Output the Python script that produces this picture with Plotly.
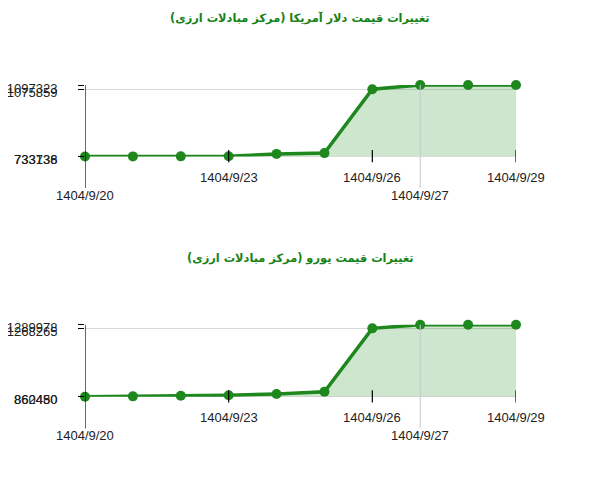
import plotly.graph_objects as go

# dates (shamsi) and daily prices
dates = ["1404/9/20", "1404/9/21", "1404/9/22", "1404/9/23", "1404/9/24",
         "1404/9/25", "1404/9/26", "1404/9/27", "1404/9/28", "1404/9/29"]

usd_prices = [733136, 733738, 733900, 734200, 746500,
              750500, 1075859, 1097323, 1097323, 1097323]
eur_prices = [860480, 862450, 866400, 868800, 876600,
              890300, 1268265, 1289978, 1289978, 1289978]

usd_ticks = [733136, 733738, 1075859, 1097323]
eur_ticks = [860480, 862450, 1268265, 1289978]

usd_title = "تغییرات قیمت دلار آمریکا (مرکز مبادلات ارزی)"
eur_title = "تغییرات قیمت یورو (مرکز مبادلات ارزی)"

# labels on the upper row / lower row of the x axis
upper_labels = ["1404/9/23", "1404/9/26", "1404/9/29"]
lower_labels = ["1404/9/20", "1404/9/27"]

GREEN = "#1e881e"
FILL = "rgba(30,140,30,0.22)"
FONT = "Liberation Sans, Arial, sans-serif"

# figure is a bit smaller than the window so the page body margin fits
OFF = 8
W = 600 - 2 * OFF
H = 480 - 2 * OFF


def dom(top_px, bottom_px):
    return [1 - (bottom_px - OFF) / H, 1 - (top_px - OFF) / H]


fig = go.Figure()

charts = [
    ("", usd_prices, usd_ticks, usd_title, dom(85, 156.5), 18),
    ("2", eur_prices, eur_ticks, eur_title, dom(324.7, 396.7), 258),
]

for sfx, prices, ticks, title, ydom, title_px in charts:
    xa = "x" + sfx
    ya = "y" + sfx
    # baseline for the area fill
    fig.add_trace(go.Scatter(x=dates, y=[min(ticks)] * len(dates), xaxis=xa, yaxis=ya,
                             mode="lines", line=dict(color="#bdbdbd", width=1),
                             hoverinfo="skip", cliponaxis=False))
    fig.add_trace(go.Scatter(x=dates, y=prices, xaxis=xa, yaxis=ya,
                             mode="lines+markers", fill="tonexty", fillcolor=FILL,
                             line=dict(color=GREEN, width=3.5),
                             marker=dict(color=GREEN, size=10),
                             cliponaxis=False))

    fig.update_layout(**{
        "xaxis" + sfx: dict(type="category", range=[0, len(dates) - 1],
                            domain=[(85 - OFF) / W, (516 - OFF) / W], showgrid=False,
                            zeroline=False, showticklabels=False, ticks="",
                            anchor=ya, fixedrange=True, automargin=False),
        "yaxis" + sfx: dict(domain=ydom, range=[min(ticks), max(ticks)],
                            tickvals=ticks, ticktext=[str(t) for t in ticks],
                            ticks="outside", ticklen=6, tickcolor="black",
                            showgrid=True, gridcolor="#d9d9d9", zeroline=False,
                            showline=False, ticklabelstandoff=18,
                            ticklabelshift=3, automargin=False,
                            tickfont=dict(family=FONT, size=13, color="#222"),
                            anchor=xa, fixedrange=True),
    })

    yref = ya + " domain"
    # y axis line, extended down to the lower label row
    fig.add_shape(type="line", xref=xa, yref=yref, x0=dates[0], x1=dates[0],
                  y0=1, y1=-0.44, line=dict(color="black", width=1.2))
    for d in lower_labels[1:]:
        fig.add_shape(type="line", xref=xa, yref=yref, x0=d, x1=d,
                      y0=1, y1=-0.44, line=dict(color="#c8c8c8", width=1))
    for d in upper_labels:
        fig.add_shape(type="line", xref=xa, yref=yref, x0=d, x1=d,
                      y0=0.09, y1=-0.08, line=dict(color="black", width=1.2))
        fig.add_annotation(x=d, y=0, xref=xa, yref=yref, text=d, showarrow=False,
                           yanchor="middle", yshift=-21,
                           font=dict(family=FONT, size=13, color="#222"))
    for d in lower_labels:
        fig.add_annotation(x=d, y=0, xref=xa, yref=yref, text=d, showarrow=False,
                           yanchor="middle", yshift=-39,
                           font=dict(family=FONT, size=13, color="#222"))

    fig.add_annotation(x=(300 - OFF) / W, y=1 - (title_px - OFF) / H,
                       xref="paper", yref="paper", yanchor="middle",
                       text="<b>" + title + "</b>", showarrow=False,
                       font=dict(family="DejaVu Sans", size=11.4, color="#178217"))

fig.update_layout(width=W, height=H, showlegend=False,
                  margin=dict(l=0, r=0, t=0, b=0),
                  paper_bgcolor="white", plot_bgcolor="white")

fig.write_html("out.html")
